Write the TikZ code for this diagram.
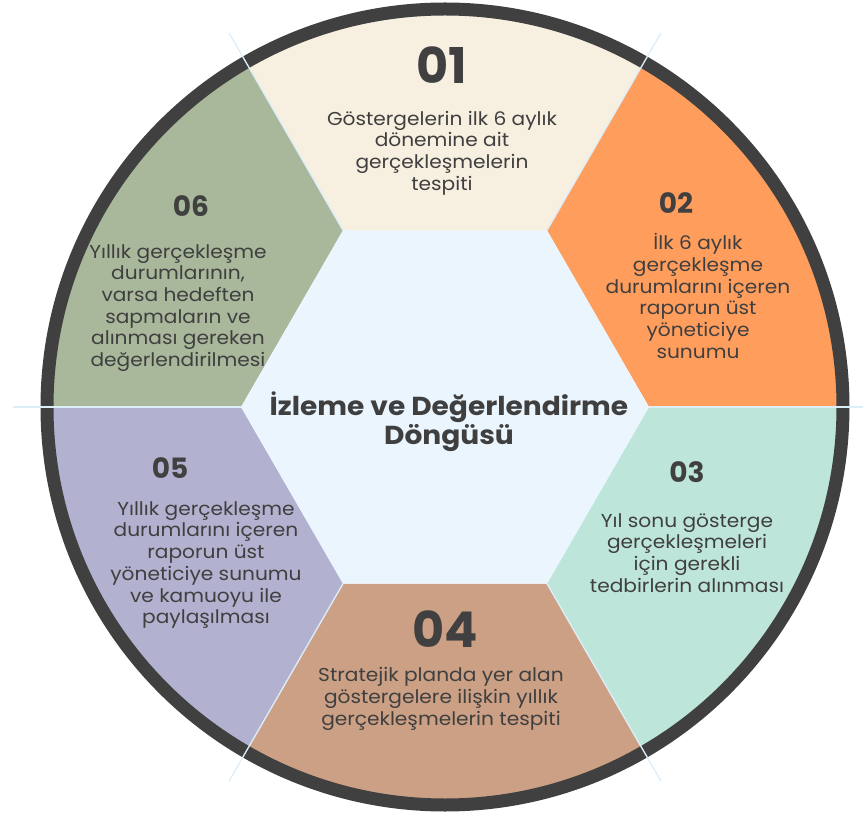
\documentclass[tikz,border=0pt]{standalone}
\usepackage{fontspec}
\setmainfont{Poppins}
\newfontfamily\widefont{Poppins}[FakeStretch=1.08]
\definecolor{ringgray}{HTML}{404040}
\definecolor{textgray}{HTML}{3F3F3F}
\definecolor{stepone}{HTML}{F7EFE0}
\definecolor{steptwo}{HTML}{FF9D5D}
\definecolor{stepthree}{HTML}{BEE5DA}
\definecolor{stepfour}{HTML}{CBA085}
\definecolor{stepfive}{HTML}{B2B1CF}
\definecolor{stepsix}{HTML}{A9B79B}
\definecolor{hexblue}{HTML}{EBF5FE}
\definecolor{sepblue}{HTML}{DDEEFB}

\begin{document}
\begin{tikzpicture}[x=0.75pt, y=0.75pt,
	sepline/.style = {draw=sepblue, line width=1pt},
	bignum/.style = {font=\bfseries\fontsize{37}{44}\selectfont, text=ringgray, inner sep=0},
	num/.style = {font=\bfseries\fontsize{21}{25}\selectfont, text=ringgray, inner sep=0},
	body/.style = {font=\widefont\fontsize{14}{16.3}\selectfont, text=textgray, align=center, inner sep=0},
	title/.style = {font=\widefont\bfseries\fontsize{19.5}{22}\selectfont, text=textgray, align=center, inner sep=0}]
	\useasboundingbox (-445,-406) rectangle (418,407);
	\fill[stepone] (60:204) -- (60:398) arc[start angle=60, end angle=120, radius=398] -- (120:204) -- cycle;
	\fill[stepsix] (120:204) -- (120:398) arc[start angle=120, end angle=180, radius=398] -- (180:204) -- cycle;
	\fill[stepfive] (180:204) -- (180:398) arc[start angle=180, end angle=240, radius=398] -- (240:204) -- cycle;
	\fill[stepfour] (240:204) -- (240:398) arc[start angle=240, end angle=300, radius=398] -- (300:204) -- cycle;
	\fill[stepthree] (300:204) -- (300:398) arc[start angle=300, end angle=360, radius=398] -- (0:204) -- cycle;
	\fill[steptwo] (0:204) -- (0:398) arc[start angle=0, end angle=60, radius=398] -- (60:204) -- cycle;
	\fill[hexblue] (0:204) -- (60:204) -- (120:204) -- (180:204) -- (240:204) -- (300:204) -- cycle;
	\draw[ringgray, line width=9.75pt] (0,0) circle[radius=398];
	\foreach \a in {0,60,...,300}
		\draw[sepline] (\a:204) -- (\a:432);

	\node[title] (cycle) at (4,-15) {İzleme ve Değerlendirme\\Döngüsü};

	\node[bignum] (n01) at (-3,342) {01};
	\node[body] (t01) at (-3,254) {Göstergelerin ilk 6 aylık\\dönemine ait\\gerçekleşmelerin\\tespiti};
	\node[num] (n02) at (231,204) {02};
	\node[body] (t02) at (253,111) {İlk 6 aylık\\gerçekleşme\\durumlarını içeren\\raporun üst\\yöneticiye\\sunumu};
	\node[num] (n03) at (242,-65) {03};
	\node[body] (t03) at (242,-146) {Yıl sonu gösterge\\gerçekleşmeleri\\için gerekli\\tedbirlerin alınması};
	\node[bignum] (n04) at (0,-222) {04};
	\node[body] (t04) at (-4,-292) {Stratejik planda yer alan\\göstergelere ilişkin yıllık\\gerçekleşmelerin tespiti};
	\node[num] (n05) at (-275,-61) {05};
	\node[body] (t05) at (-239,-158) {Yıllık gerçekleşme\\durumlarını içeren\\raporun üst\\yöneticiye sunumu\\ve kamuoyu ile\\paylaşılması};
	\node[num] (n06) at (-254,201) {06};
	\node[body] (t06) at (-267,99) {Yıllık gerçekleşme\\durumlarının,\\varsa hedeften\\sapmaların ve\\alınması gereken\\değerlendirilmesi};
\end{tikzpicture}
\end{document}
